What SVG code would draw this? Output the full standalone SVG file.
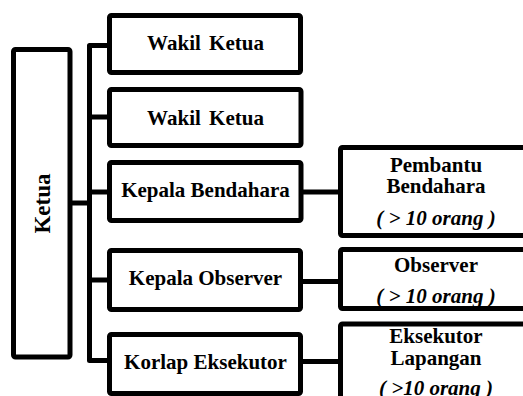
<svg xmlns="http://www.w3.org/2000/svg" width="523" height="396" viewBox="0 0 523 396">
  <style>
    .box { fill: #ffffff; stroke: #000000; stroke-width: 5; stroke-linejoin: round; }
    .wire { fill: none; stroke: #000000; stroke-width: 5; stroke-linejoin: round; }
    .lbl { font-family: 'Liberation Serif', 'DejaVu Serif', 'Times New Roman', serif; font-weight: 700; font-size: 21px; fill: #000000; text-anchor: middle; }
    .cnt { font-style: italic; }
  </style>
  <rect width="523" height="396" fill="#ffffff"/>

  <!-- connectors -->
  <g id="connectors" class="wire">
    <path d="M70,203 H89.5"/>
    <path d="M109.5,45.5 H89.5 V360.5 H109.5"/>
    <path d="M89.5,117 H109.5"/>
    <path d="M89.5,192 H109.5"/>
    <path d="M89.5,280 H109.5"/>
    <path d="M301,192 H340.5"/>
    <path d="M301,281.5 H340.5"/>
    <path d="M301,361.5 H340.5"/>
  </g>

  <g id="ketua">
    <rect class="box" x="13.5" y="49.5" width="56.5" height="307.5" rx="2"/>
    <text class="lbl" font-family="Liberation Serif, serif" style="font-size:23px" transform="translate(50,203.5) rotate(-90)" x="0" y="0">Ketua</text>
  </g>

  <g id="wakil-ketua-1">
    <rect class="box" x="109.5" y="15.5" width="191" height="57" rx="2"/>
    <text class="lbl" x="205.5" y="50" word-spacing="3">Wakil Ketua</text>
  </g>

  <g id="wakil-ketua-2">
    <rect class="box" x="109.5" y="89.5" width="191.5" height="56" rx="2"/>
    <text class="lbl" x="205.5" y="125" word-spacing="3">Wakil Ketua</text>
  </g>

  <g id="kepala-bendahara">
    <rect class="box" x="109.5" y="162.5" width="191.5" height="58" rx="2"/>
    <text class="lbl" x="205.5" y="197">Kepala Bendahara</text>
  </g>

  <g id="kepala-observer">
    <rect class="box" x="109.5" y="250.5" width="191" height="59" rx="2"/>
    <text class="lbl" x="205.5" y="285">Kepala Observer</text>
  </g>

  <g id="korlap-eksekutor">
    <rect class="box" x="109.5" y="334.5" width="191" height="59" rx="2"/>
    <text class="lbl" x="205.5" y="369">Korlap Eksekutor</text>
  </g>

  <g id="pembantu-bendahara">
    <rect class="box" x="340.5" y="147.5" width="196" height="88" rx="2"/>
    <text class="lbl" x="436" y="172">Pembantu</text>
    <text class="lbl" x="436" y="193">Bendahara</text>
    <text class="lbl cnt" x="436" y="225">( &gt; 10 orang )</text>
  </g>

  <g id="observer">
    <rect class="box" x="340.5" y="249.5" width="196" height="59" rx="2"/>
    <text class="lbl" x="436" y="272">Observer</text>
    <text class="lbl cnt" x="436" y="303">( &gt; 10 orang )</text>
  </g>

  <g id="eksekutor-lapangan">
    <rect class="box" x="340.5" y="324" width="196" height="90" rx="2"/>
    <text class="lbl" x="436" y="343">Eksekutor</text>
    <text class="lbl" x="436" y="365">Lapangan</text>
    <text class="lbl cnt" x="436" y="395">( &gt;10 orang )</text>
  </g>
</svg>
